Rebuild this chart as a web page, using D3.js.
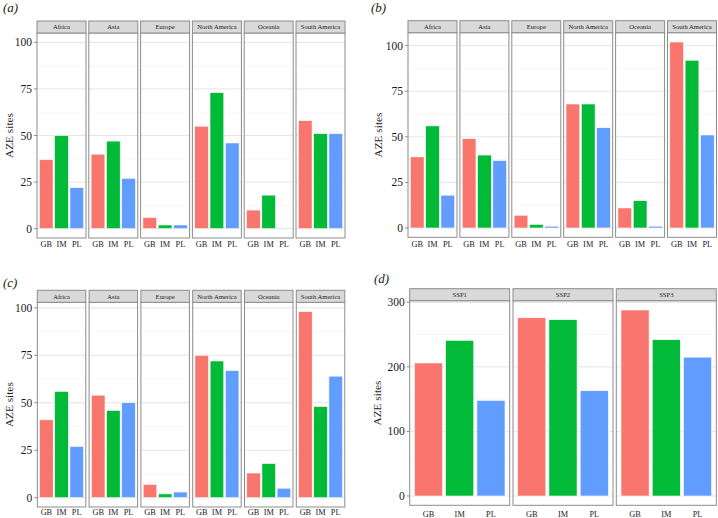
<!DOCTYPE html>
<html>
<head>
<meta charset="UTF-8">
<title>AZE sites</title>
<script src="https://d3js.org/d3.v7.min.js"></script>
<style>
	body { margin: 0; background: #fff; }
	svg text { font-family: "Times New Roman", "Liberation Serif", Times, serif; fill: #1a1a1a; }
	.grid-major { stroke: #dedede; stroke-width: 0.8px; }
	.grid-minor { stroke: #efefef; stroke-width: 0.5px; }
	.frame { fill: none; stroke: #8c8c8c; stroke-width: 1px; }
	.strip { fill: #d9d9d9; stroke: #8c8c8c; stroke-width: 1px; }
	.bar { stroke: #fff; stroke-width: 0.6px; }
</style>
</head>
<body>
<script>
	// categories
	var models = ["GB", "IM", "PL"];
	var regions = ["Africa", "Asia", "Europe", "North America", "Oceania", "South America"];
	var ssps = ["SSP1", "SSP2", "SSP3"];

	// AZE sites, one row per facet, columns follow models
	var sitesA = [[37, 50, 22], [40, 47, 27], [6, 2, 2], [55, 73, 46], [10, 18, 0], [58, 51, 51]];
	var sitesB = [[39, 56, 18], [49, 40, 37], [7, 2, 1], [68, 68, 55], [11, 15, 1], [102, 92, 51]];
	var sitesC = [[41, 56, 27], [54, 46, 50], [7, 2, 3], [75, 72, 67], [13, 18, 5], [98, 48, 64]];
	var sitesD = [[206, 241, 148], [276, 273, 163], [288, 242, 215]];

	// tick labels
	var ticksRegion = [0, 25, 50, 75, 100];
	var ticksSsp = [0, 100, 200, 300];

	var colors = ["#F8766D", "#00BA38", "#619CFF"];

	var panels = [
		{label: "(a)", facets: regions, values: sitesA, ticks: ticksRegion, top100: 100,
		 left: 37, step: 51.8, fw: 49, top: 21, bottom: 238, lx: 3, ly: 12, tx: 9, xly: 247},
		{label: "(b)", facets: regions, values: sitesB, ticks: ticksRegion, top100: 102,
		 left: 408, step: 51.9, fw: 49, top: 20.7, bottom: 237.3, lx: 371, ly: 12, tx: 378, xly: 247},
		{label: "(c)", facets: regions, values: sitesC, ticks: ticksRegion, top100: 98,
		 left: 37.3, step: 51.8, fw: 48.5, top: 290.3, bottom: 507, lx: 3, ly: 287, tx: 9, xly: 515},
		{label: "(d)", facets: ssps, values: sitesD, ticks: ticksSsp, top100: 288,
		 left: 409.7, step: 103.3, fw: 100, top: 288.7, bottom: 505.3, lx: 374, ly: 283, tx: 377, xly: 516.5}
	];

	var stripH = 12;

	var svg = d3.select("body").append("svg")
		.attr("width", 718)
		.attr("height", 518);

	panels.forEach(function(p) {
		var g = svg.append("g");
		var plotTop = p.top + stripH;

		// ggplot-like 5% expansion around the data range
		var y = d3.scaleLinear()
			.domain([-0.05 * p.top100, 1.05 * p.top100])
			.range([p.bottom, plotTop]);

		var x = d3.scaleBand()
			.domain(models)
			.range([0, p.fw])
			.paddingInner(0.1)
			.paddingOuter(0.15);

		var minor = [];
		for (var i = 0; i < p.ticks.length - 1; i++) {
			minor.push((p.ticks[i] + p.ticks[i + 1]) / 2);
		}

		p.facets.forEach(function(name, fi) {
			var fx = p.left + fi * p.step;
			var f = g.append("g").attr("transform", "translate(" + fx + ",0)");

			f.selectAll(".grid-minor")
				.data(minor)
				.enter().append("line")
				.attr("class", "grid-minor")
				.attr("x1", 0).attr("x2", p.fw)
				.attr("y1", function(d) { return y(d); })
				.attr("y2", function(d) { return y(d); });

			f.selectAll(".grid-major")
				.data(p.ticks)
				.enter().append("line")
				.attr("class", "grid-major")
				.attr("x1", 0).attr("x2", p.fw)
				.attr("y1", function(d) { return y(d); })
				.attr("y2", function(d) { return y(d); });

			f.selectAll(".bar")
				.data(p.values[fi])
				.enter().append("rect")
				.attr("class", "bar")
				.attr("x", function(d, j) { return x(models[j]); })
				.attr("width", x.bandwidth())
				.attr("y", function(d) { return y(d); })
				.attr("height", function(d) { return y(0) - y(d); })
				.style("fill", function(d, j) { return colors[j]; })
				.style("display", function(d) { return d > 0 ? null : "none"; });

			f.append("rect")
				.attr("class", "frame")
				.attr("x", 0).attr("y", plotTop)
				.attr("width", p.fw).attr("height", p.bottom - plotTop);

			f.append("rect")
				.attr("class", "strip")
				.attr("x", 0).attr("y", p.top)
				.attr("width", p.fw).attr("height", stripH);

			f.append("text")
				.attr("x", p.fw / 2)
				.attr("y", p.top + stripH / 2 + 2.3)
				.attr("text-anchor", "middle")
				.style("font-size", "6.6px")
				.text(name);

			f.selectAll(".xlab")
				.data(models)
				.enter().append("text")
				.attr("class", "xlab")
				.attr("x", function(d) { return x(d) + x.bandwidth() / 2; })
				.attr("y", p.xly)
				.attr("text-anchor", "middle")
				.style("font-size", "8.3px")
				.text(function(d) { return d; });
		});

		// y axis on the first facet
		var yAxis = g.append("g").attr("transform", "translate(" + p.left + ",0)");
		yAxis.selectAll("line")
			.data(p.ticks)
			.enter().append("line")
			.attr("x1", -3).attr("x2", 0)
			.attr("y1", function(d) { return y(d); })
			.attr("y2", function(d) { return y(d); })
			.style("stroke", "#8c8c8c");
		yAxis.selectAll("text")
			.data(p.ticks)
			.enter().append("text")
			.attr("x", -5)
			.attr("y", function(d) { return y(d) + 4; })
			.attr("text-anchor", "end")
			.style("font-size", "11.5px")
			.text(function(d) { return d; });

		g.append("text")
			.attr("transform", "translate(" + p.tx + "," + ((plotTop + p.bottom) / 2) + ") rotate(-90)")
			.attr("dy", "0.35em")
			.attr("text-anchor", "middle")
			.style("font-size", "11.3px")
			.text("AZE sites");

		g.append("text")
			.attr("x", p.lx)
			.attr("y", p.ly)
			.style("font-size", "13px")
			.style("font-style", "italic")
			.text(p.label);
	});
</script>
</body>
</html>
